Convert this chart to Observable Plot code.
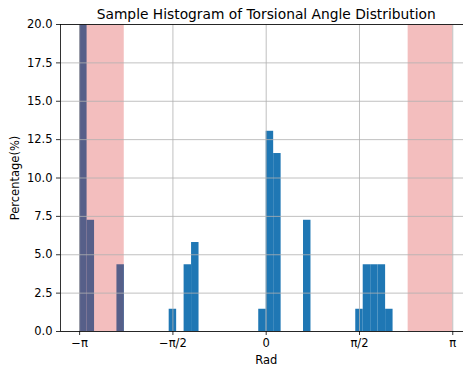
<!DOCTYPE html>
<html><head><meta charset="utf-8">
<script src="https://cdn.jsdelivr.net/npm/d3@7"></script>
<script src="https://cdn.jsdelivr.net/npm/@observablehq/plot@0.6"></script>
<style>body{margin:0;background:#fff} svg{display:block}</style>
</head><body><div id="chart"></div>
<script>
const title = "Sample Histogram of Torsional Angle Distribution";
const binCount = 50;
const sampleSize = 69;
const counts = [19,5,0,0,0,3,0,0,0,0,0,0,1,0,3,4,0,0,0,0,0,0,0,0,1,9,8,0,0,0,5,0,0,0,0,0,0,1,3,3,3,1,0,0,0,0,0,0,0,0];
const spanStart = [-Math.PI, 2.39];
const spanEnd = [-2.39, Math.PI];
const xTicks = [-Math.PI, -Math.PI / 2, 0, Math.PI / 2, Math.PI];
const xTickLabels = ["−π", "−π/2", "0", "π/2", "π"];
const yTicks = [0, 2.5, 5, 7.5, 10, 12.5, 15, 17.5, 20];

const binWidth = 2 * Math.PI / binCount;
const bins = counts.map((c, i) => ({
  x1: -Math.PI + i * binWidth,
  x2: -Math.PI + (i + 1) * binWidth,
  pct: c / sampleSize * 100
})).filter(d => d.pct > 0);
const spans = spanStart.map((s, i) => ({x1: s, x2: spanEnd[i]}));

const chart = Plot.plot({
  width: 463, height: 365,
  marginLeft: 60, marginRight: -8.4, marginTop: 24, marginBottom: 34,
  style: {fontFamily: "DejaVu Sans", fontSize: "11.5px", color: "#000", background: "#fff"},
  x: {domain: [-3.4636, 3.4636]},
  y: {domain: [0, 20], clamp: true},
  marks: [
    Plot.rectY(bins, {x1: "x1", x2: "x2", y: "pct", fill: "#1f77b4"}),
    Plot.rect(spans, {x1: "x1", x2: "x2", fill: "#d62728", fillOpacity: 0.3}),
    Plot.gridX(xTicks, {stroke: "#b0b0b0", strokeOpacity: 1, strokeWidth: 0.8}),
    Plot.gridY(yTicks, {stroke: "#b0b0b0", strokeOpacity: 1, strokeWidth: 0.8}),
    Plot.axisX(xTicks, {tickFormat: d => xTickLabels[xTicks.indexOf(d)], tickSize: 4, tickPadding: 3, strokeWidth: 0.8, label: "Rad", labelAnchor: "center", labelArrow: "none", labelOffset: 32}),
    Plot.axisY(yTicks, {tickFormat: d3.format(".1f"), tickSize: 4, tickPadding: 4, strokeWidth: 0.8, label: "Percentage(%)", labelAnchor: "center", labelArrow: "none", labelOffset: 50}),
    Plot.frame({stroke: "#000", strokeWidth: 0.8}),
    Plot.text([title], {frameAnchor: "top", lineAnchor: "bottom", dy: -6, fontSize: 13.8})
  ]
});
document.getElementById("chart").appendChild(chart);
</script>
</body></html>
